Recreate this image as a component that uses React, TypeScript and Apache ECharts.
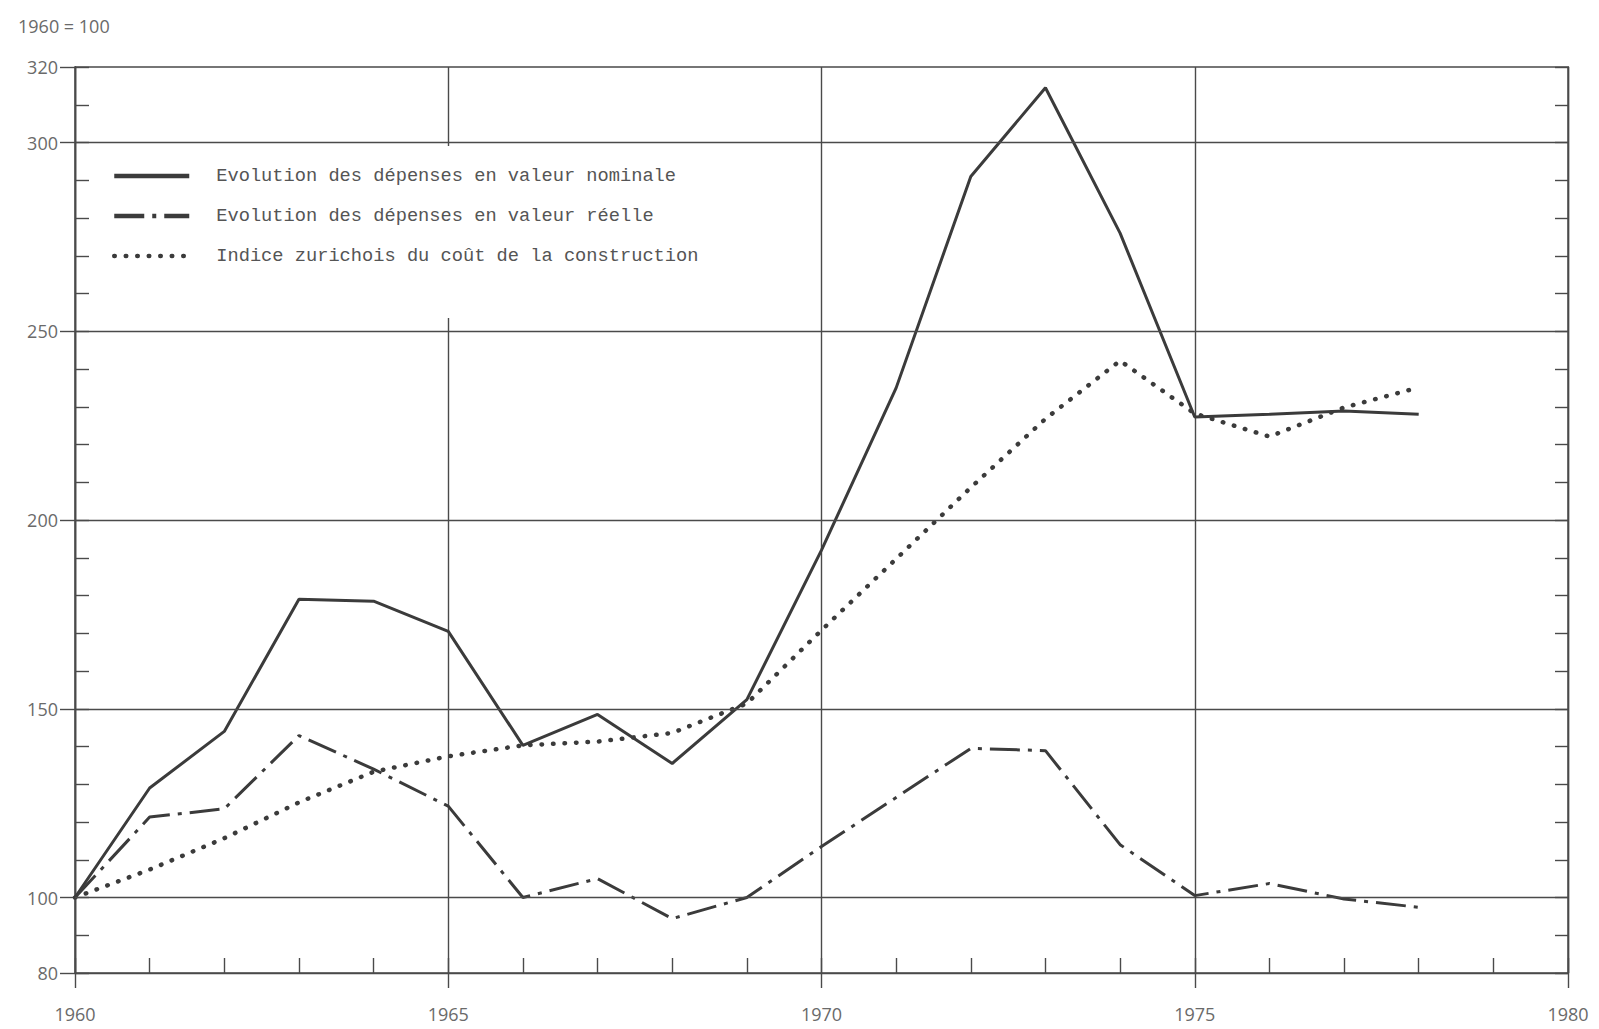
import React, { useEffect, useRef } from "react";
import * as echarts from "echarts";

const years = [1960, 1961, 1962, 1963, 1964, 1965, 1966, 1967, 1968, 1969, 1970, 1971, 1972, 1973, 1974, 1975, 1976, 1977, 1978];
const nominal = [100, 129, 144, 179, 178.5, 170.5, 140.3, 148.5, 135.5, 152.4, 192, 235, 291, 314.5, 276, 227.3, 228, 228.9, 228];
const reelle = [100, 121.3, 123.5, 142.9, 134, 124.2, 100, 105, 94.4, 100, 113.5, 126.5, 139.5, 138.9, 114, 100.5, 103.7, 99.6, 97.4];
const zurich = [100, 107.4, 115.7, 125.2, 133.3, 137.4, 140.3, 141.3, 143.6, 151.4, 170.8, 189.7, 208.6, 226.8, 242.2, 228.2, 222.1, 229.8, 235.1];

const seriesNames = [
  "Evolution des dépenses en valeur nominale",
  "Evolution des dépenses en valeur réelle",
  "Indice zurichois du coût de la construction",
];
const yLabelValues = [80, 100, 150, 200, 250, 300, 320];
const yGridValues = [100, 150, 200, 250, 300];
const baseTitle = "1960 = 100";

const INK = "#3b3b3b";
const GRID = "#4a4a4a";
const LABEL = "#6a6a6a";

export default function App() {
  const ref = useRef<HTMLDivElement>(null);
  useEffect(() => {
    if (!ref.current) return;
    const chart = echarts.init(ref.current, undefined, { renderer: "svg" });
    const pairs = (vals: number[]) => years.map((y, i) => [y, vals[i]]);
    const labelStyle = { color: LABEL, fontFamily: "Open Sans", fontSize: 18 };
    chart.setOption({
      animation: false,
      backgroundColor: "#ffffff",
      title: {
        text: baseTitle,
        left: 13,
        top: 12,
        textStyle: { ...labelStyle, fontWeight: "normal" },
      },
      grid: {
        left: 75,
        right: 31,
        top: 67,
        bottom: 56,
        show: true,
        borderColor: GRID,
        borderWidth: 1.4,
        backgroundColor: "transparent",
      },
      legend: {
        orient: "vertical",
        left: 95,
        top: 146,
        padding: [20, 16, 52, 17],
        backgroundColor: "#ffffff",
        itemWidth: 75,
        itemHeight: 14,
        itemGap: 20,
        itemStyle: { opacity: 0 },
        lineStyle: { width: 4.5 },
        textStyle: {
          fontFamily: "Liberation Mono",
          fontSize: 18.7,
          color: "#555",
          lineHeight: 20,
          padding: [0, 0, 0, 22],
        },
        data: seriesNames,
      },
      xAxis: [
        {
          type: "value",
          min: 1960,
          max: 1980,
          interval: 5,
          position: "bottom",
          axisLine: { show: true, lineStyle: { color: GRID, width: 1.4 } },
          axisTick: { show: true, inside: false, length: 15, lineStyle: { color: GRID, width: 1.4 } },
          axisLabel: { ...labelStyle, margin: 32, formatter: (v: number) => String(v) },
          splitLine: { show: true, lineStyle: { color: GRID, width: 1.4 } },
        },
        {
          type: "value",
          min: 1960,
          max: 1980,
          interval: 1,
          position: "bottom",
          axisLine: { show: false },
          axisTick: { show: true, inside: true, length: 15, lineStyle: { color: GRID, width: 1.4 } },
          axisLabel: { show: false },
          splitLine: { show: false },
        },
      ],
      yAxis: [
        {
          type: "value",
          min: 80,
          max: 320,
          interval: 10,
          position: "left",
          axisLine: { show: true, lineStyle: { color: GRID, width: 1.4 } },
          axisTick: { show: true, inside: true, length: 14, lineStyle: { color: GRID, width: 1.4 } },
          axisLabel: { show: false },
          splitLine: { show: false },
        },
        {
          type: "value",
          min: 80,
          max: 320,
          position: "left",
          axisLine: { show: true, lineStyle: { color: GRID, width: 1.4 } },
          axisTick: {
            show: true,
            inside: false,
            length: 15,
            customValues: yLabelValues,
            lineStyle: { color: GRID, width: 1.4 },
          },
          axisLabel: { ...labelStyle, margin: 17, customValues: yLabelValues },
          splitLine: { show: false },
        },
        {
          type: "value",
          min: 80,
          max: 320,
          interval: 10,
          position: "right",
          axisLine: { show: true, lineStyle: { color: GRID, width: 1.4 } },
          axisTick: { show: true, inside: true, length: 13, lineStyle: { color: GRID, width: 1.4 } },
          axisLabel: { show: false },
          splitLine: { show: false },
        },
      ],
      series: [
        {
          name: "gridlines",
          type: "line",
          data: [],
          z: 1,
          silent: true,
          markLine: {
            silent: true,
            symbol: ["none", "none"],
            label: { show: false },
            lineStyle: { color: GRID, width: 1.4, type: "solid" },
            data: yGridValues.map((v) => ({ yAxis: v })),
          },
        },
        {
          name: seriesNames[0],
          type: "line",
          data: pairs(nominal),
          symbol: "none",
          z: 3,
          color: INK,
          lineStyle: { color: INK, width: 3, type: "solid" },
        },
        {
          name: seriesNames[1],
          type: "line",
          data: pairs(reelle),
          symbol: "none",
          z: 3,
          color: INK,
          lineStyle: { color: INK, width: 3, type: [30, 8, 4, 8] },
        },
        {
          name: seriesNames[2],
          type: "line",
          data: pairs(zurich),
          symbol: "none",
          z: 3,
          color: INK,
          lineStyle: { color: INK, width: 4.5, type: [0.5, 11], cap: "round" },
        },
      ],
    });
    return () => chart.dispose();
  }, []);
  return (
    <div
      ref={ref}
      style={{ position: "absolute", left: 0, top: 0, width: 1599, height: 1029 }}
    />
  );
}
